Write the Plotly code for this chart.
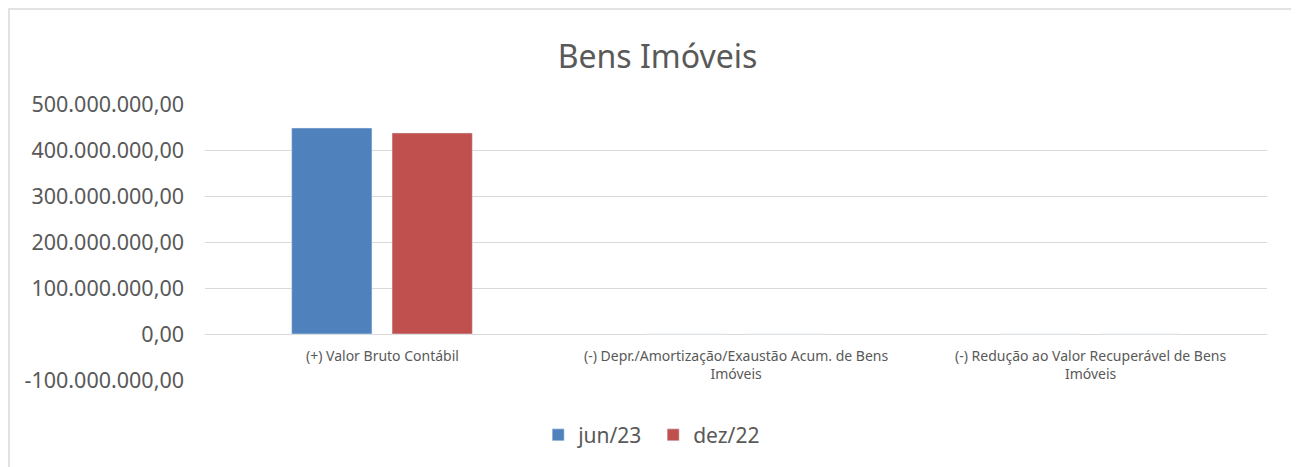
import plotly.graph_objects as go

categories = ["(+) Valor Bruto Contábil",
              "(-) Depr./Amortização/Exaustão Acum. de Bens Imóveis",
              "(-) Redução ao Valor Recuperável de Bens Imóveis"]
cat_labels = ["(+) Valor Bruto Contábil",
              "(-) Depr./Amortização/Exaustão Acum. de Bens<br>Imóveis",
              "(-) Redução ao Valor Recuperável de Bens<br>Imóveis"]
jun23 = [447800000, 0, 0]
dez22 = [437000000, 0, 0]
y_ticks = [-100000000, 0, 100000000, 200000000, 300000000, 400000000, 500000000]
y_tick_labels = ["-100.000.000,00", "0,00", "100.000.000,00", "200.000.000,00",
                 "300.000.000,00", "400.000.000,00", "500.000.000,00"]

FONT = "Noto Sans"
GRAY = "#595959"

fig = go.Figure()
fig.add_trace(go.Bar(x=categories, y=jun23, name="jun/23", marker_color="#4f81bd"))
fig.add_trace(go.Bar(x=categories, y=dez22, name="dez/22", marker_color="#c0504d"))

for cat, lab in zip(categories, cat_labels):
    fig.add_annotation(x=cat, y=0, xref="x", yref="y", text=lab, showarrow=False,
                       yanchor="top", yshift=-10, font=dict(family=FONT, size=14, color=GRAY))

# outer chart border
fig.add_shape(type="rect", xref="paper", yref="paper", x0=-0.1846, x1=1.0235, y0=-0.6, y1=1.3442,
              line=dict(color="#d9d9d9", width=1.5), layer="below")

fig.update_layout(
    width=1299, height=467,
    margin=dict(l=197, r=40, t=96, b=95),
    paper_bgcolor="white", plot_bgcolor="white",
    barmode="group", bargap=0.433, bargroupgap=0.2,
    title=dict(text="Bens Imóveis", x=0.5, xanchor="center", y=0.895, yanchor="middle",
               font=dict(family=FONT, size=32, color=GRAY)),
    font=dict(family=FONT, color=GRAY),
    showlegend=True,
    legend=dict(orientation="h", x=0.422, xanchor="center", y=-0.2, yanchor="middle",
                entrywidth=70, itemwidth=30,
                font=dict(family=FONT, size=21, color=GRAY)),
    xaxis=dict(showticklabels=False, showgrid=False, zeroline=False, showline=False),
    yaxis=dict(range=[-100000000, 500000000], tickvals=y_ticks, ticktext=y_tick_labels,
               showgrid=True, gridcolor="#d9d9d9", gridwidth=1,
               zeroline=True, zerolinecolor="#d9d9d9", zerolinewidth=1,
               showline=False, ticklabelstandoff=20,
               tickfont=dict(family=FONT, size=21.5, color=GRAY)),
)

fig.write_html("out.html")
